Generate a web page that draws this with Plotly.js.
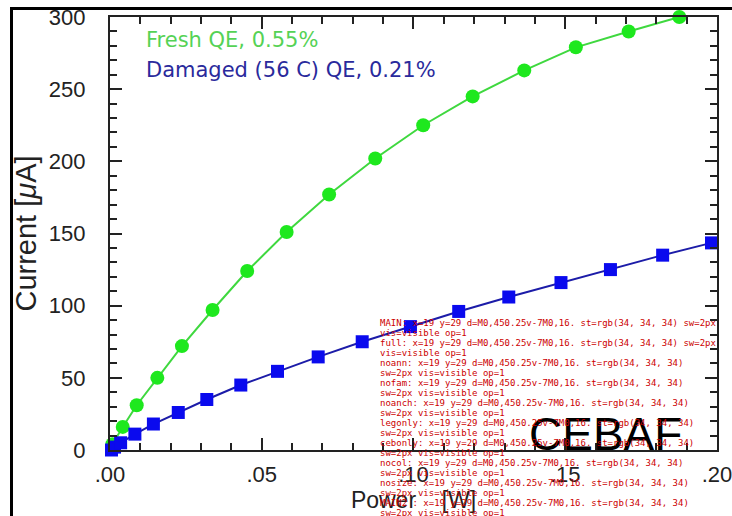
<!DOCTYPE html>
<html>
<head>
<meta charset="utf-8">
<script src="https://cdn.plot.ly/plotly-3.0.1.min.js"></script>
<style>
html,body{margin:0;padding:0;background:#fff;}
#wrap{position:relative;width:732px;height:516px;overflow:hidden;}
#chart{width:732px;height:516px;}
#frame{position:absolute;left:10px;top:7px;width:730px;height:515px;box-sizing:border-box;border-top:3px solid #000;border-left:3px solid #000;pointer-events:none;z-index:5;}
.off{position:absolute;left:-3000px;top:0;width:732px;height:516px;}
#dbg{position:absolute;left:380px;top:318px;width:340px;font:9px monospace;color:#c00;white-space:pre-wrap;z-index:6;}
</style>
</head>
<body>
<div id="wrap"><div id="chart"></div><div id="frame"></div><div id="dbg"></div></div>
<script>
var freshPower   = [0.0008, 0.0042, 0.0088, 0.0156, 0.0237, 0.0338, 0.0452, 0.0582, 0.0722, 0.0874, 0.1032, 0.1195, 0.1365, 0.1535, 0.1709, 0.1876];
var freshCurrent = [4, 16, 31, 50, 72, 97, 124, 151, 177, 202, 225, 245, 263, 279, 290, 300];
var damagedPower   = [0.0005, 0.0015, 0.0035, 0.0082, 0.0143, 0.0225, 0.0319, 0.0431, 0.0552, 0.0686, 0.0831, 0.0990, 0.1149, 0.1314, 0.1486, 0.1649, 0.1821, 0.1982];
var damagedCurrent = [0, 2, 5, 11, 18, 26, 35, 45, 54.5, 64.5, 75, 85.5, 96, 106, 116, 125, 135, 143.5];
var xTickDefault = ["0.00", "0.05", "0.10", "0.15", "0.20"];
var xTickText    = [".00", ".05", ".10", ".15", ".20"];
var seriesNames = ["Fresh QE, 0.55%", "Damaged (56 C) QE, 0.21%"];
var xAlias = {};
xTickDefault.forEach(function (k, i) { xAlias[k] = xTickText[i]; });

function build(v) {
  var traces = [
    {x: freshPower, y: freshCurrent, name: seriesNames[0], type: 'scatter', mode: 'lines+markers',
     line: {color: '#3fd83f', width: 2}, marker: {symbol: 'circle', size: 14, color: '#1ee81e'}, cliponaxis: false},
    {x: damagedPower, y: damagedCurrent, name: seriesNames[1], type: 'scatter', mode: 'lines+markers',
     line: {color: '#1c1ca8', width: 2}, marker: {symbol: 'square', size: 13, color: '#0a0aee'}, cliponaxis: false}
  ];
  var tickFont = {family: 'Liberation Sans, Arial, sans-serif', size: 22, color: '#222'};
  var ann = [
    {xref: 'paper', yref: 'paper', x: 0.056, y: 0.9469, xanchor: 'left', yanchor: 'middle', showarrow: false,
     text: seriesNames[0], font: {family: 'DejaVu Sans, sans-serif', size: 21, color: '#55d255'}},
    {xref: 'paper', yref: 'paper', x: 0.056, y: 0.8776, xanchor: 'left', yanchor: 'middle', showarrow: false,
     text: seriesNames[1], font: {family: 'DejaVu Sans, sans-serif', size: 21, color: '#2a2a9c'}},
    {xref: 'paper', yref: 'paper', x: 0.817, y: 0.037, xanchor: 'center', yanchor: 'middle', showarrow: false,
     text: 'CEBAF', font: {family: 'Liberation Sans, Arial, sans-serif', size: 46, color: '#000'}}
  ];
  if (v === 'noann') ann = [];
  if (v === 'nofam') ann.forEach(function (a) { delete a.font.family; });
  if (v === 'noanch') ann.forEach(function (a) { delete a.xanchor; delete a.yanchor; });
  if (v === 'legonly') ann = ann.slice(0, 2);
  if (v === 'cebonly') ann = ann.slice(2);
  if (v === 'nocol') ann.forEach(function (a) { delete a.font.color; });
  if (v === 'nosize') ann.forEach(function (a) { delete a.font.size; });
  var layout = {
    width: 732, height: 516, margin: {l: 110, r: 15, t: 17, b: 66},
    paper_bgcolor: '#fff', plot_bgcolor: '#fff', showlegend: false,
    xaxis: {range: [0, 0.20001], tickmode: 'linear', tick0: 0, dtick: 0.05, tickformat: '.2f', labelalias: xAlias,
      ticks: 'inside', ticklen: 12, tickwidth: 1.5, tickcolor: '#222',
      minor: {dtick: 0.01, ticks: 'inside', ticklen: 7, tickwidth: 1.5, tickcolor: '#222'},
      showline: true, linecolor: '#222', linewidth: 1.5, mirror: 'allticks', ticklabeloverflow: 'allow',
      showgrid: false, zeroline: false, tickfont: tickFont, ticklabelstandoff: 4,
      title: {text: 'Power&nbsp;&nbsp;&nbsp;&nbsp;[W]', font: {family: 'Liberation Sans, Arial, sans-serif', size: 23, color: '#222'}, standoff: 2}},
    yaxis: {range: [0, 300.01], tickmode: 'linear', tick0: 0, dtick: 50, ticksuffix: '\u00a0\u00a0\u00a0',
      ticks: 'inside', ticklen: 12, tickwidth: 1.5, tickcolor: '#222',
      minor: {dtick: 10, ticks: 'inside', ticklen: 7, tickwidth: 1.5, tickcolor: '#222'},
      showline: true, linecolor: '#222', linewidth: 1.5, mirror: 'allticks', ticklabeloverflow: 'allow',
      showgrid: false, zeroline: false, tickfont: tickFont,
      title: {text: 'Current [<i>μ</i>A]', font: {family: 'Liberation Sans, Arial, sans-serif', size: 29, color: '#222'}, standoff: 4}},
    annotations: ann
  };
  return [traces, layout];
}
function info(gd, tag) {
  var xt = gd.querySelectorAll('path.xtick');
  var s = tag + ': x=' + xt.length + ' y=' + gd.querySelectorAll('path.ytick').length;
  if (xt[0]) {
    var cs = getComputedStyle(xt[0]);
    s += ' d=' + (xt[0].getAttribute('d') || '').slice(0, 18) + ' st=' + cs.stroke + ' sw=' + cs.strokeWidth + ' vis=' + cs.visibility + ' op=' + cs.opacity;
  }
  return s + '\n';
}
var out = '';
var main = build('full');
Plotly.newPlot('chart', main[0], main[1], {displayModeBar: false}).then(function (gd) {
  out += info(gd, 'MAIN');
  var tests = ['full', 'noann', 'nofam', 'noanch', 'legonly', 'cebonly', 'nocol', 'nosize'];
  var p = Promise.resolve();
  tests.forEach(function (t, i) {
    p = p.then(function () {
      var d = document.createElement('div'); d.className = 'off'; document.body.appendChild(d);
      var b = build(t);
      return Plotly.newPlot(d, b[0], b[1]).then(function (g) { out += info(g, t); });
    });
  });
  return p;
}).then(function () { out += 'MAIN2 ' + info(document.getElementById('chart'), ''); document.getElementById('dbg').textContent = out; })
  .catch(function (e) { document.getElementById('dbg').textContent = out + 'ERR ' + e; });
</script>
</body>
</html>
